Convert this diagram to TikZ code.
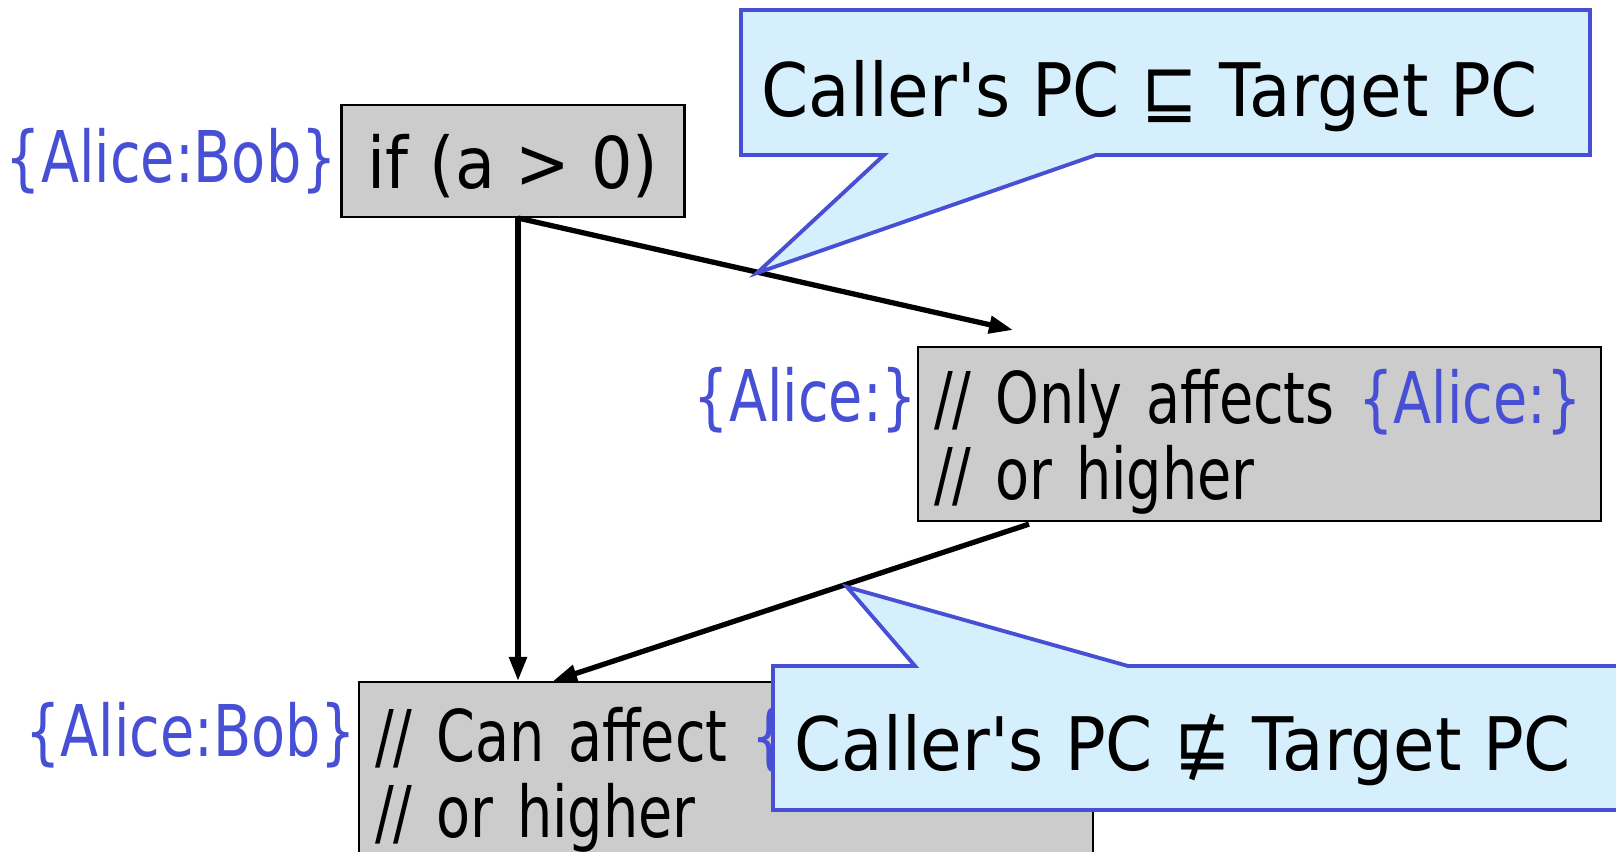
\documentclass[tikz,border=0pt]{standalone}
\usepackage{fontspec}
\setmainfont{DejaVu Sans}[FakeStretch=0.78]
\newfontfamily\callfont{DejaVu Sans}[FakeStretch=0.915]
\usetikzlibrary{arrows.meta,calc,positioning}
\definecolor{pcblue}{RGB}{71,80,212}
\definecolor{stmtgray}{RGB}{204,204,204}
\definecolor{callfill}{RGB}{214,239,253}

\begin{document}
\begin{tikzpicture}[x=0.1mm,y=-0.1mm,font=\fontsize{20.3}{21.6}\selectfont,
    stmt/.style={draw,line width=0.6pt,fill=stmtgray,align=left,inner xsep=1.6mm,text depth=21.6pt},
    pclbl/.style={text=pcblue,inner sep=0pt},
    flow/.style={-{Triangle[length=2.4mm,width=1.7mm]},line width=1.5pt},
    callbox/.style={draw=pcblue,fill=callfill,line width=1.1pt,line join=miter},
    calltxt/.style={font=\callfont\fontsize{21}{22}\selectfont,inner sep=0pt}]
        \useasboundingbox (0,0) rectangle (1616,852);
        \node[stmt,align=center,text depth=0pt,minimum width=3.43cm,minimum height=1.12cm,
            font=\callfont\fontsize{20.3}{21.6}\selectfont] (ifst) at (513,161) {if (a > 0)};
        \node[pclbl,left=0.3mm of ifst] (ifpc) {\{Alice:Bob\}};
        \node[stmt,anchor=north west,text width=6.51cm,minimum height=1.74cm] (thenb) at (917,346)
            {// Only affects \textcolor{pcblue}{\{Alice:\}}\\// or higher};
        \node[pclbl,anchor=east] (thenpc) at (918,400) {\{Alice:\}};
        \node[stmt,anchor=north west,text width=7.02cm,minimum height=1.8cm] (joinb) at (358,681)
            {\mbox{// Can affect \textcolor{pcblue}{\{Alice:Bob\}}}\\// or higher};
        \node[pclbl,anchor=east] (joinpc) at (357,735) {\{Alice:Bob\}};
        \coordinate (ifout) at ($(ifst.south)+(5,0)$);
        \draw[flow] (ifout) -- (ifout |- joinb.north);
        \draw[flow] (ifout) -- ($(thenb.north west)+(96,-16)$);
        \draw[flow] ($(thenb.south west)+(112,2)$) -- ($(joinb.north west)+(195,0)$);
        % callouts
        \draw[callbox] (741,10) -- (1590,10) -- (1590,155) -- (1096,155) -- (757,273) -- (884,155) -- (741,155) -- cycle;
        \node[calltxt,anchor=west] (okcall) at (761,96) {Caller's PC ⊑ Target PC};
        \draw[callbox] (773,666) -- (915,666) -- (847,587) -- (1128,666) -- (1640,666) -- (1640,810) -- (773,810) -- cycle;
        \node[calltxt,anchor=west] (badcall) at (794,750) {Caller's PC ⋢ Target PC};
      \end{tikzpicture}
\end{document}
